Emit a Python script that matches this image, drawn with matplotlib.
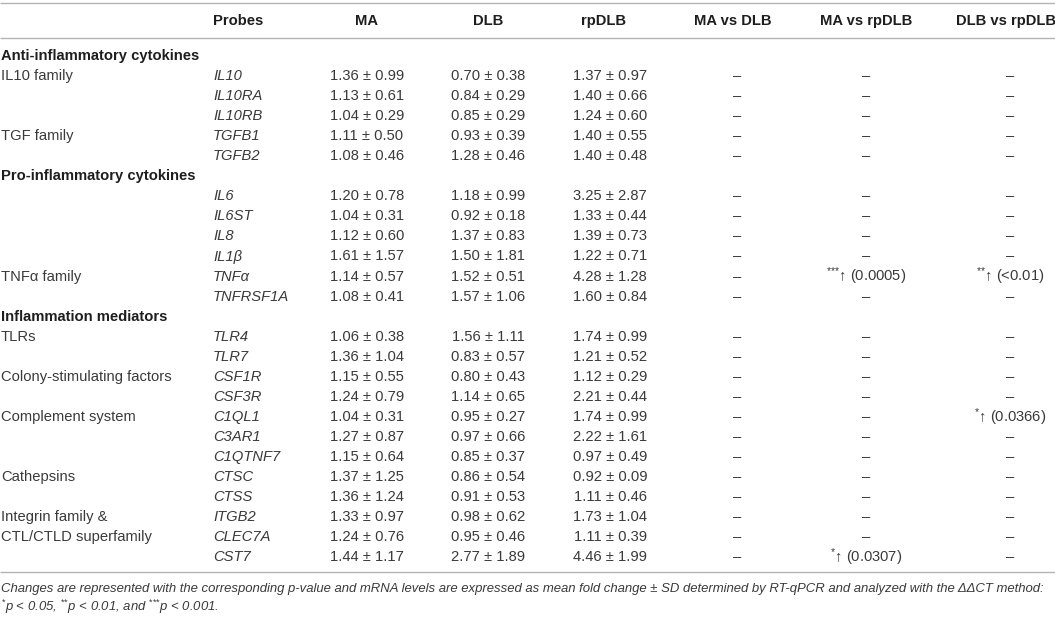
import matplotlib
matplotlib.use("Agg")
import matplotlib.pyplot as plt

plt.rcParams['font.family'] = ['Liberation Sans', 'DejaVu Sans']
plt.rcParams['mathtext.fontset'] = 'custom'
plt.rcParams['mathtext.rm'] = 'Liberation Sans'
plt.rcParams['mathtext.it'] = 'Liberation Sans:italic'

# ---------------- data ----------------
columns = ["Probes", "MA", "DLB", "rpDLB", "MA vs DLB", "MA vs rpDLB", "DLB vs rpDLB"]
sections = ["Anti-inflammatory cytokines", "Pro-inflammatory cytokines", "Inflammation mediators"]
section_sizes = [5, 6, 12]
probes = ["IL10", "IL10RA", "IL10RB", "TGFB1", "TGFB2",
          "IL6", "IL6ST", "IL8", "IL1β", "TNFα", "TNFRSF1A",
          "TLR4", "TLR7", "CSF1R", "CSF3R", "C1QL1", "C3AR1", "C1QTNF7",
          "CTSC", "CTSS", "ITGB2", "CLEC7A", "CST7"]
families = ["IL10 family", "", "", "TGF family", "",
            "", "", "", "", "TNFα family", "",
            "TLRs", "", "Colony-stimulating factors", "", "Complement system", "", "",
            "Cathepsins", "", "Integrin family &", "CTL/CTLD superfamily", ""]
ma_mean = [1.36, 1.13, 1.04, 1.11, 1.08, 1.20, 1.04, 1.12, 1.61, 1.14, 1.08,
           1.06, 1.36, 1.15, 1.24, 1.04, 1.27, 1.15, 1.37, 1.36, 1.33, 1.24, 1.44]
ma_sd = [0.99, 0.61, 0.29, 0.50, 0.46, 0.78, 0.31, 0.60, 1.57, 0.57, 0.41,
         0.38, 1.04, 0.55, 0.79, 0.31, 0.87, 0.64, 1.25, 1.24, 0.97, 0.76, 1.17]
dlb_mean = [0.70, 0.84, 0.85, 0.93, 1.28, 1.18, 0.92, 1.37, 1.50, 1.52, 1.57,
            1.56, 0.83, 0.80, 1.14, 0.95, 0.97, 0.85, 0.86, 0.91, 0.98, 0.95, 2.77]
dlb_sd = [0.38, 0.29, 0.29, 0.39, 0.46, 0.99, 0.18, 0.83, 1.81, 0.51, 1.06,
          1.11, 0.57, 0.43, 0.65, 0.27, 0.66, 0.37, 0.54, 0.53, 0.62, 0.46, 1.89]
rp_mean = [1.37, 1.40, 1.24, 1.40, 1.40, 3.25, 1.33, 1.39, 1.22, 4.28, 1.60,
           1.74, 1.21, 1.12, 2.21, 1.74, 2.22, 0.97, 0.92, 1.11, 1.73, 1.11, 4.46]
rp_sd = [0.97, 0.66, 0.60, 0.55, 0.48, 2.87, 0.44, 0.73, 0.71, 1.28, 0.84,
         0.99, 0.52, 0.29, 0.44, 0.99, 1.61, 0.49, 0.09, 0.46, 1.04, 0.39, 1.99]
ma_vs_dlb = ["–"] * 23
ma_vs_rp = ["–"] * 23
ma_vs_rp[9] = r"$^{{*}{*}{*}}$↑ (0.0005)"
ma_vs_rp[22] = r"$^{{*}}$↑ (0.0307)"
dlb_vs_rp = ["–"] * 23
dlb_vs_rp[9] = r"$^{{*}{*}}$↑ (<0.01)"
dlb_vs_rp[15] = r"$^{{*}}$↑ (0.0366)"
footnote1 = ("Changes are represented with the corresponding p-value and mRNA levels are expressed as mean "
             "fold change ± SD determined by RT-qPCR and analyzed with the ΔΔCT method:")
footnote2 = r"$^{{*}}$p < 0.05, $^{{*}{*}}$p < 0.01, and $^{{*}{*}{*}}$p < 0.001."

# ---------------- layout ----------------
W, H = 1055, 617
fig = plt.figure(figsize=(W / 100, H / 100), dpi=100)
ax = fig.add_axes([0, 0, 1, 1])
ax.set_xlim(0, W)
ax.set_ylim(H, 0)
ax.axis("off")

body_c = "#3a3a3a"
head_c = "#1e1e1e"
rule_c = "#b4b4b4"
fs = 10.6

cat_x = 1
probe_x = 213
head_x = [213, 367, 488, 604, 733, 866, 1006]
val_x = [367, 488, 610, 737, 866, 1010]

y_top, y_head_rule, y_bottom = 3, 37.5, 572
y_header = 21
y0, step = 56, 20.05

for yy in (y_top, y_head_rule, y_bottom):
    ax.plot([0, W], [yy, yy], color=rule_c, lw=1.0, solid_capstyle="butt")

for i, col in enumerate(columns):
    ax.text(head_x[i], y_header, col, ha="left" if i == 0 else "center", va="center",
            fontsize=fs, fontweight="bold", color=head_c)

row = 0
k = 0
for s, (sec, n) in enumerate(zip(sections, section_sizes)):
    y = y0 + row * step
    ax.text(cat_x, y, sec, ha="left", va="center", fontsize=fs, fontweight="bold", color=head_c)
    row += 1
    for j in range(n):
        y = y0 + row * step
        if families[k]:
            ax.text(cat_x, y, families[k], ha="left", va="center", fontsize=fs, color=body_c)
        ax.text(probe_x, y, probes[k], ha="left", va="center", fontsize=fs, style="italic", color=body_c)
        vals = [f"{ma_mean[k]:.2f} ± {ma_sd[k]:.2f}",
                f"{dlb_mean[k]:.2f} ± {dlb_sd[k]:.2f}",
                f"{rp_mean[k]:.2f} ± {rp_sd[k]:.2f}",
                ma_vs_dlb[k], ma_vs_rp[k], dlb_vs_rp[k]]
        for x, v in zip(val_x, vals):
            ax.text(x, y, v, ha="center", va="center", fontsize=fs, color=body_c)
        row += 1
        k += 1

t1 = ax.text(1, 589, footnote1, ha="left", va="center", fontsize=9.6, style="italic", color=body_c)
fig.canvas.draw()
bb = t1.get_window_extent()
target = 1052
t1.set_fontsize(9.6 * target / bb.width)
ax.text(1, 607, footnote2, ha="left", va="center", fontsize=t1.get_fontsize(), style="italic", color=body_c)

fig.savefig("out.png", dpi=100)
